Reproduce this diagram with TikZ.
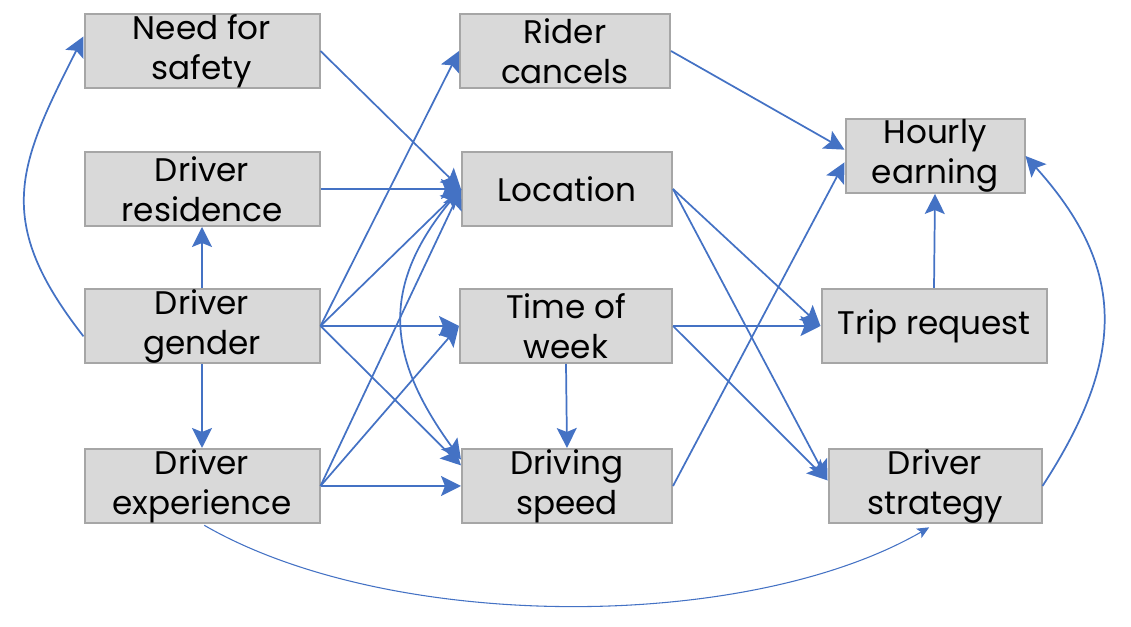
\documentclass[tikz,border=0pt]{standalone}
\usepackage{fontspec}
\setmainfont{Poppins}
\usetikzlibrary{arrows.meta}
\definecolor{linkblue}{HTML}{4472C4}
\definecolor{boxgray}{HTML}{D9D9D9}
\definecolor{rimgray}{HTML}{A6A6A6}

\tikzstyle{factor}=[rectangle,fill=boxgray,draw=rimgray,line width=1.5pt,minimum height=55.5pt,inner sep=0pt,align=center,font=\fontsize{24.5}{30}\selectfont]
\tikzstyle{link} = [draw,linkblue,line width=1.3pt,-{Stealth[length=15pt,width=15pt,inset=3pt]}]
\tikzstyle{thin link} = [draw,linkblue,line width=0.8pt,-{Stealth[length=9pt,width=8pt,inset=2pt]}]

\begin{document}
\begin{tikzpicture}[x=0.75pt,y=0.75pt]
     \useasboundingbox (0,0) rectangle (1131,627);
     % First we draw the factors
     \foreach \pos/\name/\size/\txt in {{(202,576)/safety/235/{Need for\\safety}},
       {(202,438)/residence/235/{Driver\\residence}},
       {(202,301)/gender/235/{Driver\\gender}},
       {(202,141)/experience/235/{Driver\\experience}},
       {(565,576)/rider/210/{Rider\\cancels}},
       {(567,438)/location/210/{Location}},
       {(566,301)/timeweek/212/{Time of\\week}},
       {(567,141)/speed/210/{Driving\\speed}},
       {(935,471)/hourly/179/{Hourly\\earning}},
       {(934,301)/trip/225/{Trip request}},
       {(935,141)/strategy/213/{Driver\\strategy}}}
     \node[factor,minimum width=\size*0.75pt] (\name) at \pos {\txt};

     % Connect factors with straight links
     \foreach \source/\dest in {safety.east/location.west,
       residence.east/location.west, gender.east/rider.west,
       gender.east/location.west, gender.east/timeweek.west,
       gender.east/speed.169, experience.east/location.west,
       experience.east/timeweek.west, experience.east/speed.west,
       rider.east/hourly.176, speed.east/hourly.184,
       location.east/trip.west, location.east/strategy.177,
       timeweek.east/trip.west, timeweek.east/strategy.177,
       timeweek.south/speed.north, trip.north/hourly.south,
       gender.north/residence.south, gender.south/experience.north}
     \path[link] (\source) -- (\dest);

     % Curved links
     \path[link] (gender.185) to[out=128,in=243,looseness=1.25] (safety.173);
     \path[link] (location.west) to[out=228,in=126,looseness=1.2] (speed.166);
     \path[link] (strategy.east) to[out=57,in=312,looseness=1.18] (hourly.east);
     \path[thin link,shorten >=5pt,shorten <=2pt] (experience.south) to[out=-30,in=210,looseness=0.76] (strategy.south);
\end{tikzpicture}
\end{document}
